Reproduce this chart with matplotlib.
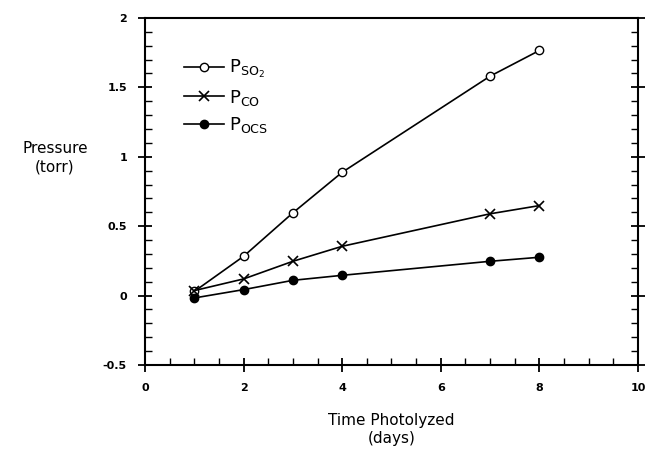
import matplotlib
matplotlib.use("Agg")
import matplotlib.pyplot as plt
from matplotlib.ticker import MultipleLocator, FixedFormatter, FixedLocator

days = [1, 2, 3, 4, 7, 8]
p_so2 = [0.03, 0.283, 0.596, 0.888, 1.58, 1.765]
p_co = [0.036, 0.12, 0.247, 0.355, 0.589, 0.648]
p_ocs = [-0.017, 0.043, 0.11, 0.146, 0.247, 0.276]
labels = [r"P$_{\mathrm{SO_2}}$", r"P$_{\mathrm{CO}}$", r"P$_{\mathrm{OCS}}$"]
yticks = [-0.5, 0, 0.5, 1, 1.5, 2]
yticklabels = ["-0.5", "0", "0.5", "1", "1.5", "2"]
xticks = [0, 2, 4, 6, 8, 10]

fig = plt.figure(figsize=(6.46, 4.58), dpi=100)
ax = fig.add_axes([0.2245, 0.203, 0.763, 0.758])

ax.plot(days, p_so2, color="black", lw=1.2, marker="o", mfc="white", mec="black", ms=6, label=labels[0])
ax.plot(days, p_co, color="black", lw=1.2, marker="x", ms=7, mew=1.2, label=labels[1])
ax.plot(days, p_ocs, color="black", lw=1.2, marker="o", mfc="black", ms=6, label=labels[2])

ax.set_xlim(0, 10)
ax.set_ylim(-0.5, 2)
ax.xaxis.set_major_locator(FixedLocator(xticks))
ax.xaxis.set_minor_locator(MultipleLocator(0.5))
ax.yaxis.set_major_locator(FixedLocator(yticks))
ax.yaxis.set_major_formatter(FixedFormatter(yticklabels))
ax.yaxis.set_minor_locator(MultipleLocator(0.1))
ax.tick_params(which="major", direction="inout", top=False, right=True, length=10, width=1.3,
               labelsize=8, pad=8)
ax.tick_params(which="minor", direction="in", top=False, right=True, length=5, width=1)
for lab in ax.get_xticklabels() + ax.get_yticklabels():
    lab.set_fontweight("bold")
for s in ax.spines.values():
    s.set_linewidth(1.5)

ax.set_xlabel("Time Photolyzed\n(days)", fontsize=11, labelpad=14, linespacing=1.25)
fig.text(0.085, 0.655, "Pressure\n(torr)", ha="center", va="center", fontsize=11, linespacing=1.3)

leg = ax.legend(loc="upper left", bbox_to_anchor=(0.065, 0.905), frameon=False, fontsize=13,
                handlelength=2.2, handletextpad=0.3, labelspacing=0.42, borderaxespad=0)

fig.savefig("out.png", dpi=100)
